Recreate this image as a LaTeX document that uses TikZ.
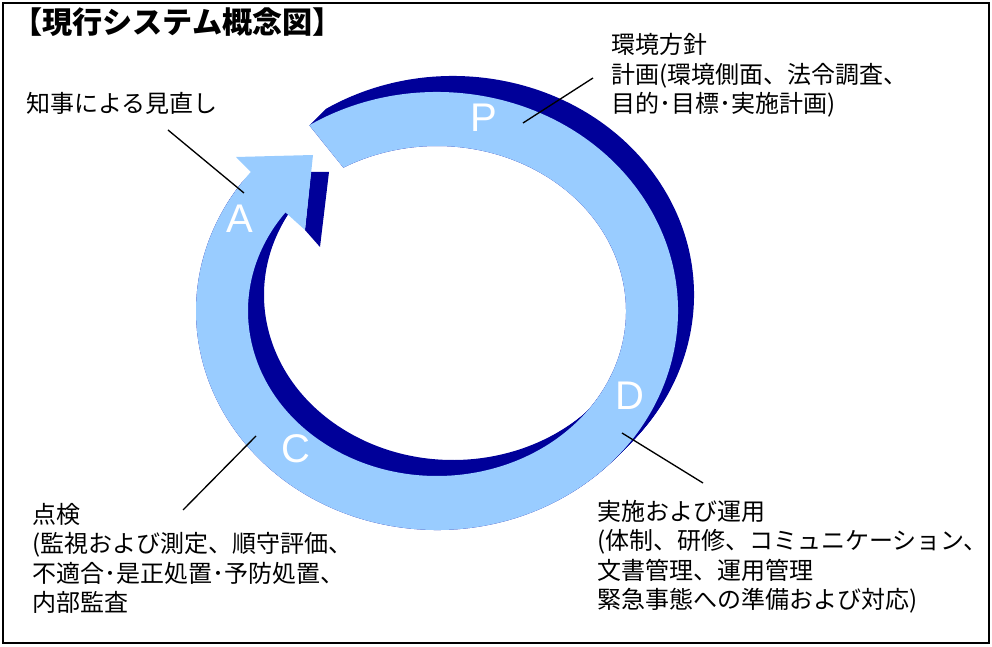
\documentclass[tikz,border=0pt]{standalone}
\usepackage{fontspec}
\newfontfamily\jpfont{Noto Sans CJK JP}
\newfontfamily\pdcafont{Liberation Sans}
\usetikzlibrary{calc}

\definecolor{ringlight}{HTML}{99CCFF}
\definecolor{ringdark}{HTML}{000099}

\tikzset{
  note/.style={font=\jpfont\fontsize{18}{22.1}\selectfont, align=left, inner sep=0pt, anchor=north west},
  pdca/.style={font=\pdcafont\fontsize{30}{30}\selectfont, text=white, inner sep=0pt},
  leader/.style={line width=1pt},
}

\begin{document}
\begin{tikzpicture}[x=0.75pt,y=0.75pt]
   \useasboundingbox (0,0) rectangle (992,646);
   \draw[line width=1.3pt] (3,3) rectangle (989,643);
   % ring: dark depth first, light face on top
   \begin{scope}[shift={(437,335)}]
     \foreach \t in {0,1,...,16}
       \fill[ringdark, shift={(\t,\t)}] (122:180.75pt and 164.25pt)
         arc[start angle=122, end angle=-216, x radius=180.75pt, y radius=164.25pt]
         -- (-213.5:141.75pt and 123.75pt)
         arc[start angle=-213.5, end angle=119.7, x radius=141.75pt, y radius=123.75pt]
         -- cycle;
     \fill[ringdark] (-126,139) -- (-108,139) -- (-117,64) -- (-132,81) -- cycle;
     \fill[ringlight] (122:180.75pt and 164.25pt)
       arc[start angle=122, end angle=-219.4, x radius=180.75pt, y radius=164.25pt]
       -- (-201,154) -- (-124,156) -- (-132,81)
       -- (-216.7:141.75pt and 123.75pt)
       arc[start angle=-216.7, end angle=119.7, x radius=141.75pt, y radius=123.75pt]
       -- cycle;
   \end{scope}
   \node[pdca] (p) at (484,528) {P};
   \node[pdca] (d) at (630,250) {D};
   \node[pdca] (c) at (296,197) {C};
   \node[pdca] (a) at (240,427) {A};
   % texts
   \node[anchor=west, inner sep=0pt, font=\jpfont\bfseries\fontsize{22.6}{25}\selectfont]
     (title) at (12,624) {【現行システム概念図】};
   \node[note, anchor=west] (review) at (26,542.5) {知事による見直し};
   \node[note] (plan) at (611,612.5) {環境方針\\計画(環境側面、法令調査、\\目的･目標･実施計画)};
   \node[note] (do) at (597,146) {実施および運用\\(体制、研修、コミュニケーション、\\文書管理、運用管理\\緊急事態への準備および対応)};
   \node[note] (check) at (32,143) {点検\\(監視および測定、順守評価、\\不適合･是正処置･予防処置、\\内部監査};
   % leaders
   \coordinate (review end) at (168,516);
   \coordinate (review ring) at (244,453);
   \coordinate (plan end) at (593,568);
   \coordinate (plan ring) at (523,523);
   \coordinate (do end) at (703,163);
   \coordinate (do ring) at (622,213);
   \coordinate (check end) at (183,136);
   \coordinate (check ring) at (256,210);
   \draw[leader] (review end) -- (review ring);
   \draw[leader] (plan end) -- (plan ring);
   \draw[leader] (do end) -- (do ring);
   \draw[leader] (check end) -- (check ring);
\end{tikzpicture}
\end{document}
